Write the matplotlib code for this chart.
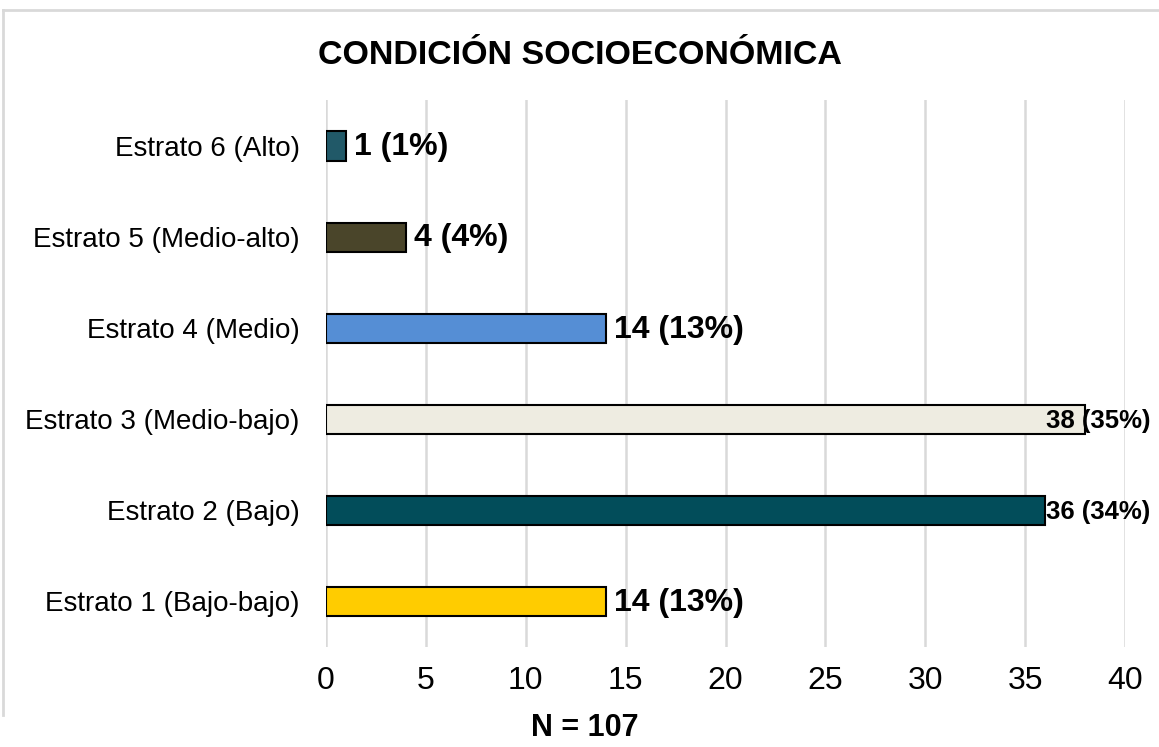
import matplotlib.pyplot as plt
from matplotlib.lines import Line2D

plt.rcParams['font.family'] = ['Liberation Sans', 'DejaVu Sans']

# Data
categories = ['Estrato 1 (Bajo-bajo)', 'Estrato 2 (Bajo)', 'Estrato 3 (Medio-bajo)',
              'Estrato 4 (Medio)', 'Estrato 5 (Medio-alto)', 'Estrato 6 (Alto)']
counts = [14, 36, 38, 14, 4, 1]
percents = [13, 34, 35, 13, 4, 1]
colors = ['#FFCC00', '#024D5A', '#EEECE1', '#558ED5', '#4A452A', '#215968']
total_n = 107

fig = plt.figure(figsize=(11.59, 7.47), dpi=100)
ax = fig.add_axes([0.2813, 0.1339, 0.6894, 0.7316])

y_pos = list(range(len(categories)))
ax.barh(y_pos, counts, height=0.32, color=colors, edgecolor='black',
        linewidth=1.5, zorder=3)

# value labels (Excel squeezes the long ones back inside the chart area)
for y, c, p in zip(y_pos, counts, percents):
    if c > 35:
        x, fs, off = 35.85, 18.5, 3
    else:
        x, fs, off = c, 23, 6
    ax.annotate(f'{c} ({p}%)', xy=(x, y), xytext=(off, -1), textcoords='offset points',
                ha='left', va='center', fontsize=fs, fontweight='bold',
                color='black', zorder=4, annotation_clip=False)

ax.set_xlim(0, 40)
ax.set_ylim(-0.5, len(categories) - 0.5)
ax.set_xticks(range(0, 41, 5))
ax.set_yticks(y_pos)
ax.set_yticklabels(categories)
ax.tick_params(axis='x', length=0, pad=14, labelsize=23)
ax.tick_params(axis='y', length=0, pad=19, labelsize=20)
ax.grid(True, axis='x', color='#D9D9D9', linewidth=1.8, zorder=0)
ax.set_axisbelow(True)
for s in ax.spines.values():
    s.set_visible(False)

fig.text(0.5, 0.926, 'CONDICIÓN SOCIOECONÓMICA', ha='center', va='center',
         fontsize=24.5, fontweight='bold')
fig.text(0.505, 0.025, f'N = {total_n}', ha='center', va='center',
         fontsize=22, fontweight='bold')

# chart area border (cropped on right / bottom)
fig.add_artist(Line2D([3 / 1159, 1], [1 - 10 / 747, 1 - 10 / 747],
                      transform=fig.transFigure, color='#D9D9D9', linewidth=2))
fig.add_artist(Line2D([3 / 1159, 3 / 1159], [1 - 10 / 747, 1 - 715 / 747],
                      transform=fig.transFigure, color='#D9D9D9', linewidth=2))

plt.savefig('out.png', dpi=100)
plt.close()
